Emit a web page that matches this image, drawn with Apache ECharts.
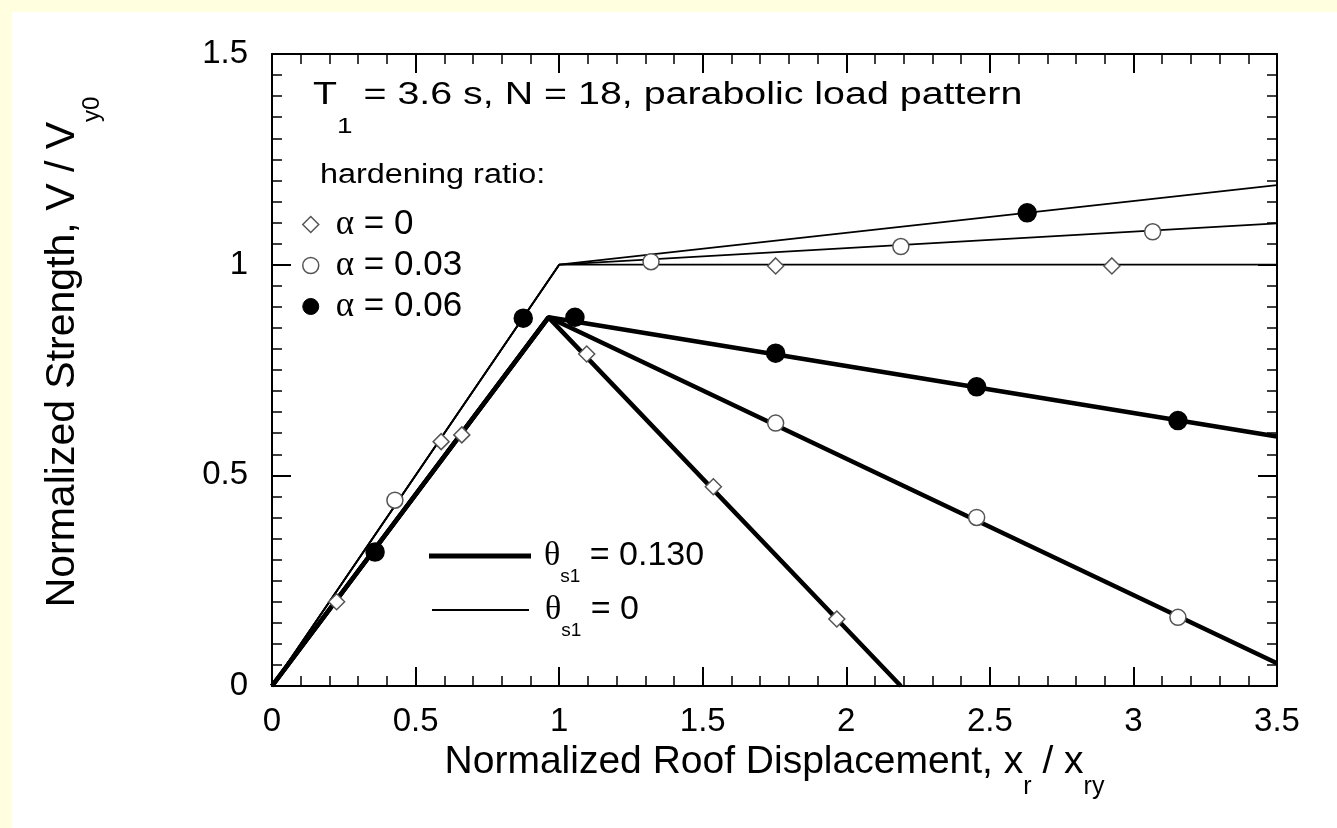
<!DOCTYPE html>
<html>
<head>
<meta charset="utf-8">
<script src="https://cdn.jsdelivr.net/npm/echarts@6/dist/echarts.min.js"></script>
<style>
  html, body { margin: 0; padding: 0; background: #ffffe0; }
  #chart { position: absolute; left: 12px; top: 12px; width: 1325px; height: 816px; background: #fff; }
</style>
</head>
<body>
<div id="chart"></div>
<script>
// axis ticks
const xTicks = [0, 0.5, 1, 1.5, 2, 2.5, 3, 3.5]
const yTicks = [0, 0.5, 1, 1.5]

// pushover curves, theta_s1 = 0 (thin lines)
const thinA0 = [[0, 0], [1, 1], [3.5, 1]]
const thinA003 = [[0, 0], [1, 1], [3.5, 1.098]]
const thinA006 = [[0, 0], [1, 1], [3.5, 1.189]]
// theta_s1 = 0.130 (thick lines)
const thickA0 = [[0, 0], [0.963, 0.875], [2.19, 0]]
const thickA003 = [[0, 0], [0.963, 0.875], [3.5, 0.054]]
const thickA006 = [[0, 0], [0.963, 0.875], [3.5, 0.592]]

// markers for each hardening ratio
const markA0 = [[0.225, 0.2], [0.589, 0.58], [0.661, 0.596], [1.096, 0.788], [1.537, 0.473], [1.967, 0.159], [1.754, 0.997], [2.925, 0.997]]
const markA003 = [[0.428, 0.441], [1.32, 1.007], [2.19, 1.043], [3.067, 1.078], [1.754, 0.624], [2.454, 0.4], [3.155, 0.163]]
const markA006 = [[0.359, 0.318], [0.875, 0.873], [1.055, 0.875], [2.63, 1.123], [1.754, 0.79], [2.454, 0.71], [3.155, 0.63]]

const FONT = '"Liberation Sans", Arial, Helvetica, sans-serif'
const SERIF = '"Liberation Serif", "Times New Roman", serif'
const THICK = 'θs1 = 0.130'
const THIN = 'θs1 = 0'

const chart = echarts.init(document.getElementById('chart'))

function axisBase(dim, ticks, pos, showLabel) {
  return {
    type: 'value',
    position: pos,
    min: ticks[0],
    max: ticks[ticks.length - 1],
    interval: ticks[1] - ticks[0],
    axisLine: {show: true, onZero: false, lineStyle: {color: '#000', width: 2}},
    axisTick: {show: true, inside: true, length: 19, lineStyle: {color: '#000', width: 2}},
    minorTick: {show: true, splitNumber: dim === 'x' ? 5 : 10, length: 10, lineStyle: {color: '#000', width: 1.5}},
    splitLine: {show: false},
    axisLabel: {show: showLabel, color: '#000', fontFamily: FONT, fontSize: 33, margin: dim === 'x' ? 19 : 24}
  }
}

const xMain = axisBase('x', xTicks, 'bottom', true)
xMain.name = '{t|Normalized Roof Displacement, x}{s|r}{t| / x}{s|ry}'
xMain.nameLocation = 'middle'
xMain.nameGap = 37
xMain.nameTextStyle = {
  color: '#000',
  rich: {
    t: {fontFamily: FONT, fontSize: 39, color: '#000'},
    s: {fontFamily: FONT, fontSize: 25, color: '#000', padding: [50, 0, 0, 0]}
  }
}
const yMain = axisBase('y', yTicks, 'left', true)
yMain.name = '{t|Normalized Strength, V / V}{s|y0}'
yMain.nameLocation = 'middle'
yMain.nameGap = 168
yMain.nameTextStyle = {
  color: '#000',
  rich: {
    t: {fontFamily: FONT, fontSize: 41, color: '#000', padding: [0, 0, 0, 36]},
    s: {fontFamily: FONT, fontSize: 24, color: '#000', padding: [58, 0, 0, 0]}
  }
}

function line(name, data, w) {
  return {
    name: name, type: 'line', data: data, symbol: 'none', silent: true,
    lineStyle: {color: '#000', width: w}, itemStyle: {color: '#000'}, z: 2
  }
}
function marks(name, data, symbol, size, fill, border) {
  return {
    name: name, type: 'scatter', data: data, symbol: symbol, symbolSize: size, silent: true,
    itemStyle: {color: fill, borderColor: border, borderWidth: 1.5, opacity: 1}, z: 5
  }
}

const sub = {fontFamily: FONT, fontSize: 19, color: '#000', padding: [42, 0, 0, 0]}
const option = {
  animation: false,
  grid: {left: 260, top: 42, right: 60, bottom: 142, containLabel: false},
  xAxis: [xMain, axisBase('x', xTicks, 'top', false)],
  yAxis: [yMain, axisBase('y', yTicks, 'right', false)],
  legend: [
    {
      orient: 'vertical', left: 290, top: 195, padding: 0, itemWidth: 16, itemHeight: 16, itemGap: 6,
      selectedMode: false,
      data: [
        {name: 'α = 0', icon: 'diamond', itemStyle: {color: '#fff', borderColor: '#555', borderWidth: 1.5}},
        {name: 'α = 0.03', icon: 'circle', itemStyle: {color: '#fff', borderColor: '#555', borderWidth: 1.5}},
        {name: 'α = 0.06', icon: 'circle', itemStyle: {color: '#000', borderColor: '#000', borderWidth: 1}}
      ],
      formatter: n => '{a|α}{t|' + n.slice(1) + '}',
      textStyle: {
        rich: {
          a: {fontFamily: SERIF, fontSize: 35, color: '#000', padding: [0, 0, 0, 12]},
          t: {fontFamily: FONT, fontSize: 35, color: '#000'}
        }
      }
    },
    {
      left: 417, top: 527, padding: 0, itemWidth: 102, itemHeight: 5, icon: 'rect', selectedMode: false,
      data: [{name: THICK, itemStyle: {color: '#000'}}],
      formatter: () => '{a|θ}{s|s1}{t| = 0.130}',
      textStyle: {rich: {a: {fontFamily: SERIF, fontSize: 34, color: '#000', padding: [0, 0, 0, 8]}, s: sub, t: {fontFamily: FONT, fontSize: 34, color: '#000'}}}
    },
    {
      left: 420, top: 581, padding: 0, itemWidth: 97, itemHeight: 2, icon: 'rect', selectedMode: false,
      data: [{name: THIN, itemStyle: {color: '#000'}}],
      formatter: () => '{a|θ}{s|s1}{t| = 0}',
      textStyle: {rich: {a: {fontFamily: SERIF, fontSize: 34, color: '#000', padding: [0, 0, 0, 11]}, s: sub, t: {fontFamily: FONT, fontSize: 34, color: '#000'}}}
    }
  ],
  graphic: [
    {
      type: 'text', left: 301, top: 68, scaleX: 1.27, silent: true,
      style: {
        text: '{m|T}{s|1}{m| = 3.6 s, N = 18, parabolic load pattern}',
        rich: {
          m: {fontFamily: FONT, fontSize: 31, fill: '#000'},
          s: {fontFamily: FONT, fontSize: 22, fill: '#000', padding: [62, 0, 0, 0]}
        }
      }
    },
    {
      type: 'text', left: 308, top: 150, scaleX: 1.2, silent: true,
      style: {text: 'hardening ratio:', font: '27px ' + FONT, fill: '#000'}
    }
  ],
  series: [
    line(THIN, thinA0, 1.8),
    line(THIN, thinA003, 1.8),
    line(THIN, thinA006, 1.8),
    line(THICK, thickA0, 4.5),
    line(THICK, thickA003, 4.5),
    line(THICK, thickA006, 4.5),
    marks('α = 0', markA0, 'diamond', 16, '#fff', '#555'),
    marks('α = 0.03', markA003, 'circle', 16, '#fff', '#555'),
    marks('α = 0.06', markA006, 'circle', 18, '#000', '#000')
  ]
}
chart.setOption(option)
</script>
</body>
</html>
